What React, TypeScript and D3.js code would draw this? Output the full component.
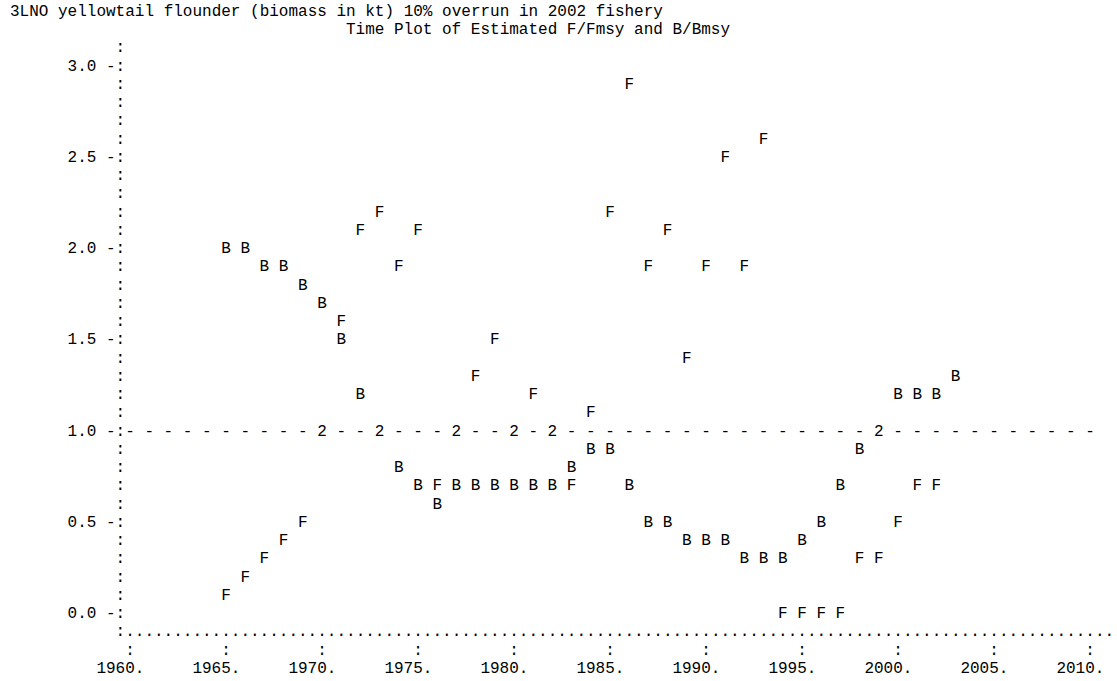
import React from "react";
import * as d3 from "d3";

const TITLE = "3LNO yellowtail flounder (biomass in kt) 10% overrun in 2002 fishery";
const SUBTITLE = "Time Plot of Estimated F/Fmsy and B/Bmsy";

const bYears = [1965, 1966, 1967, 1968, 1969, 1970, 1971, 1972, 1973, 1974, 1975, 1976, 1977, 1978, 1979, 1980, 1981, 1982, 1983, 1984, 1985, 1986, 1987, 1988, 1989, 1990, 1991, 1992, 1993, 1994, 1995, 1996, 1997, 1998, 1999, 2000, 2001, 2002, 2003];
const bValues = [2.0, 2.0, 1.9, 1.9, 1.8, 1.7, 1.5, 1.2, 1.0, 0.8, 0.7, 0.6, 0.7, 0.7, 0.7, 0.7, 0.7, 0.7, 0.8, 0.9, 0.9, 0.7, 0.5, 0.5, 0.4, 0.4, 0.4, 0.3, 0.3, 0.3, 0.4, 0.5, 0.7, 0.9, 1.0, 1.2, 1.2, 1.2, 1.3];

const fYears = [1965, 1966, 1967, 1968, 1969, 1970, 1971, 1972, 1973, 1974, 1975, 1976, 1977, 1978, 1979, 1980, 1981, 1982, 1983, 1984, 1985, 1986, 1987, 1988, 1989, 1990, 1991, 1992, 1993, 1994, 1995, 1996, 1997, 1998, 1999, 2000, 2001, 2002];
const fValues = [0.1, 0.2, 0.3, 0.4, 0.5, 1.0, 1.6, 2.1, 2.2, 1.9, 2.1, 0.7, 1.0, 1.3, 1.5, 1.0, 1.2, 1.0, 0.7, 1.1, 2.2, 2.9, 1.9, 2.1, 1.4, 1.9, 2.5, 1.9, 2.6, 0.0, 0.0, 0.0, 0.0, 0.3, 0.3, 0.5, 0.7, 0.7];

const xTicks = [1960, 1965, 1970, 1975, 1980, 1985, 1990, 1995, 2000, 2005, 2010];
const xTickLabels = ["1960.", "1965.", "1970.", "1975.", "1980.", "1985.", "1990.", "1995.", "2000.", "2005.", "2010."];
const yTicks = [0.0, 0.5, 1.0, 1.5, 2.0, 2.5, 3.0];
const yTickLabels = ["0.0", "0.5", "1.0", "1.5", "2.0", "2.5", "3.0"];
const refValue = 1.0;

// text-grid metrics
const FONT = 16;
const CW = 9.6;
const LH = 18.25;
const X0 = 10;
const Y0 = 2.5;
const ASC = 13.3;

const colLeft = (c: number) => X0 + c * CW;
const rowBase = (r: number) => Y0 + r * LH + ASC;

export default function App() {
  const x = d3.scaleLinear().domain([1960, 2010]).range([colLeft(12) + CW / 2, colLeft(112) + CW / 2]);
  const y = d3.scaleLinear().domain([0, 3]).range([rowBase(33), rowBase(3)]);
  const step = 0.1;

  // build symbol cells
  const cells = new Map<string, { year: number; v: number; syms: string[] }>();
  const add = (year: number, v: number, s: string) => {
    const key = `${year}|${Math.round(v * 10)}`;
    if (!cells.has(key)) cells.set(key, { year, v, syms: [] });
    cells.get(key)!.syms.push(s);
  };
  d3.range(xTicks[0], xTicks[xTicks.length - 1] + 1).forEach((yr) => add(yr, refValue, "-"));
  bYears.forEach((yr, i) => add(yr, bValues[i], "B"));
  fYears.forEach((yr, i) => add(yr, fValues[i], "F"));

  const axisX = x(1960) - CW; // centre of the axis column
  const axisRows = d3.range(0, 32).map((k) => Math.round((3.1 - k * step) * 10) / 10).filter((v) => v >= 0);
  const nDots = 103;

  const font = "'Liberation Mono', 'Courier New', 'DejaVu Sans Mono', monospace";

  return (
    <svg
      width={1117}
      height={681}
      style={{ position: "absolute", left: 0, top: 0, background: "#fff" }}
      fontFamily={font}
      fontSize={FONT}
      fill="#000"
    >
      <rect width={1117} height={681} fill="#fff" />
      <text x={colLeft(0)} y={y(3.3)} style={{ whiteSpace: "pre" }}>{TITLE}</text>
      <text x={colLeft(35)} y={y(3.2)} style={{ whiteSpace: "pre" }}>{SUBTITLE}</text>

      {/* y axis */}
      {axisRows.map((v) => (
        <text key={"ax" + v} x={axisX} y={y(v)} textAnchor="middle">:</text>
      ))}
      {yTicks.map((v, i) => (
        <g key={"yt" + v}>
          <text x={axisX - CW} y={y(v)} textAnchor="middle">-</text>
          <text x={axisX - 5.5 * CW} y={y(v)} style={{ whiteSpace: "pre" }}>{yTickLabels[i]}</text>
        </g>
      ))}

      {/* bottom axis */}
      <text x={axisX} y={y(-0.1)} textAnchor="middle">:</text>
      <text x={axisX + CW / 2} y={y(-0.1)} style={{ whiteSpace: "pre" }}>{".".repeat(nDots)}</text>
      {xTicks.map((t, i) => (
        <g key={"xt" + t}>
          <text x={x(t)} y={y(-0.2)} textAnchor="middle">:</text>
          <text x={x(t) - 3.5 * CW} y={y(-0.3)} style={{ whiteSpace: "pre" }}>{xTickLabels[i]}</text>
        </g>
      ))}

      {/* plotted symbols */}
      {Array.from(cells.values()).map((c) => (
        <text key={`${c.year}-${c.v}`} x={x(c.year)} y={y(c.v)} textAnchor="middle">
          {c.syms.length > 1 ? String(c.syms.length) : c.syms[0]}
        </text>
      ))}
    </svg>
  );
}
